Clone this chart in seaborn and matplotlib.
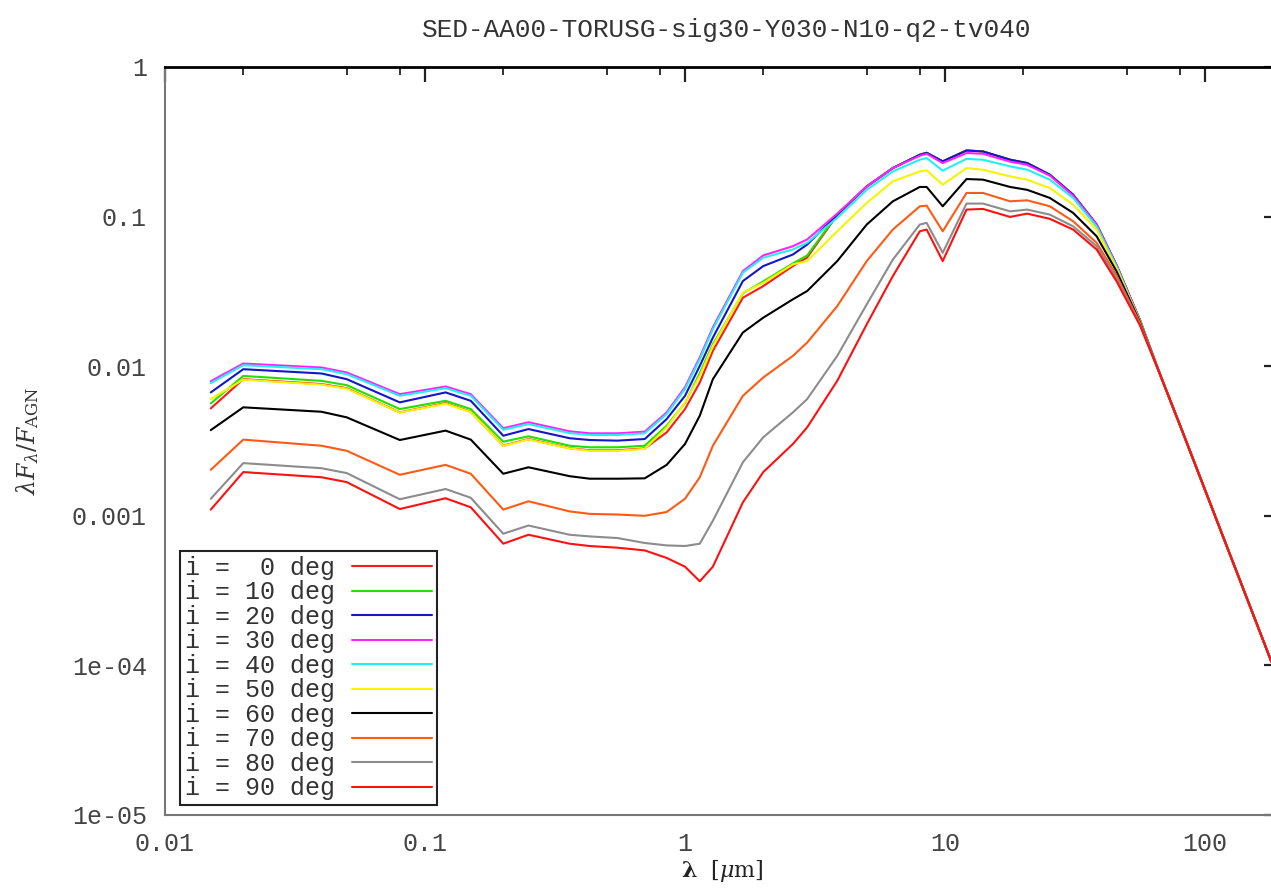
import numpy as np
import pandas as pd
import matplotlib
matplotlib.use("Agg")
import matplotlib.pyplot as plt
from matplotlib import ticker
import seaborn as sns

# --- data (wavelength in micron, lambda*F_lambda/F_AGN) ---
wavelength = [0.015, 0.02, 0.04, 0.05, 0.08, 0.12, 0.15, 0.2, 0.25, 0.36, 0.43, 0.55,
              0.7, 0.85, 1.0, 1.14, 1.28, 1.67, 2.0, 2.6, 2.95, 3.85, 5.0, 6.3, 8.0,
              8.5, 9.8, 12.1, 14.0, 17.8, 20.7, 25.3, 31.1, 38.3, 45.7, 56.2, 67.1,
              82.6, 180.0]

flux_i0 = [0.00522, 0.00819, 0.00759, 0.00713, 0.00491, 0.00567, 0.00496, 0.00294,
           0.00326, 0.00283, 0.00274, 0.00274, 0.00282, 0.00361, 0.00517, 0.00778,
           0.01265, 0.0287, 0.0343, 0.0467, 0.0533, 0.1023, 0.159, 0.211, 0.259,
           0.267, 0.234, 0.2767, 0.2725, 0.240, 0.228, 0.1905, 0.140, 0.0885,
           0.0472, 0.0203, 0.00885, 0.00352, 0.000106]
flux_i10 = [0.00564, 0.00861, 0.00798, 0.00747, 0.00517, 0.00587, 0.00517, 0.00313,
            0.00340, 0.00294, 0.00287, 0.00287, 0.00294, 0.00400, 0.00567, 0.00898,
            0.01403, 0.0307, 0.0369, 0.0486, 0.0550, 0.1031, 0.159, 0.211, 0.259,
            0.267, 0.234, 0.2767, 0.2725, 0.240, 0.228, 0.1905, 0.140, 0.0885,
            0.0472, 0.0203, 0.00885, 0.00352, 0.000106]
flux_i20 = [0.00668, 0.00955, 0.00894, 0.00819, 0.00573, 0.00668, 0.00587, 0.00343,
            0.00380, 0.00330, 0.00321, 0.00318, 0.00326, 0.00443, 0.00634, 0.01005,
            0.01553, 0.0371, 0.0467, 0.0558, 0.0650, 0.1031, 0.159, 0.211, 0.259,
            0.267, 0.234, 0.2767, 0.2725, 0.240, 0.228, 0.1905, 0.140, 0.0885,
            0.0472, 0.0203, 0.00885, 0.00352, 0.000106]
flux_i30 = [0.00794, 0.01042, 0.00980, 0.00908, 0.00650, 0.00732, 0.00650, 0.00385,
            0.00422, 0.00367, 0.00356, 0.00356, 0.00365, 0.00491, 0.00724, 0.01148,
            0.0182, 0.0432, 0.0550, 0.0634, 0.0703, 0.1047, 0.159, 0.211, 0.255,
            0.263, 0.228, 0.266, 0.263, 0.233, 0.222, 0.188, 0.138, 0.0885,
            0.0472, 0.0203, 0.00885, 0.00352, 0.000106]
flux_i40 = [0.00770, 0.01016, 0.00955, 0.00885, 0.00634, 0.00713, 0.00634, 0.00376,
            0.00410, 0.00357, 0.00347, 0.00347, 0.00356, 0.00479, 0.00703, 0.01114,
            0.01766, 0.0422, 0.0531, 0.0603, 0.0668, 0.0980, 0.151, 0.2004, 0.240,
            0.246, 0.203, 0.243, 0.240, 0.2165, 0.206, 0.1766, 0.1333, 0.0858,
            0.0464, 0.01995, 0.00885, 0.00352, 0.000106]
flux_i50 = [0.00603, 0.00813, 0.00753, 0.00708, 0.00490, 0.00562, 0.00494, 0.00293,
            0.00324, 0.00282, 0.00272, 0.00272, 0.00280, 0.00390, 0.00573, 0.00861,
            0.01366, 0.0310, 0.0361, 0.0479, 0.0504, 0.0798, 0.1234, 0.1720, 0.2004,
            0.2037, 0.1634, 0.211, 0.2056, 0.1857, 0.1766, 0.1552, 0.1202, 0.0819,
            0.0450, 0.01995, 0.00885, 0.00352, 0.000106]
flux_i60 = [0.00374, 0.00531, 0.00496, 0.00455, 0.00321, 0.00371, 0.00323, 0.00191,
            0.00211, 0.00184, 0.00177, 0.00177, 0.00178, 0.00219, 0.00302, 0.00467,
            0.00819, 0.0168, 0.0211, 0.0280, 0.0318, 0.0504, 0.0885, 0.1265, 0.1578,
            0.1578, 0.1172, 0.1783, 0.1766, 0.1578, 0.151, 0.1333, 0.1059, 0.0739,
            0.0430, 0.0197, 0.00885, 0.00352, 0.000106]
flux_i70 = [0.00203, 0.00323, 0.00294, 0.00272, 0.00188, 0.00219, 0.00191, 0.00110,
            0.00125, 0.00107, 0.00103, 0.00102, 0.00100, 0.00106, 0.00130, 0.00181,
            0.00294, 0.00634, 0.00841, 0.01172, 0.01439, 0.0252, 0.0504, 0.0819, 0.1172,
            0.1184, 0.0798, 0.1439, 0.1439, 0.1265, 0.1285, 0.1172, 0.0931, 0.0668,
            0.0404, 0.0194, 0.00885, 0.00352, 0.000106]
flux_i80 = [0.00130, 0.00225, 0.00208, 0.00193, 0.00129, 0.00151, 0.00132, 0.000759,
            0.000861, 0.000747, 0.000728, 0.000710, 0.000658, 0.000634, 0.000628, 0.000651,
            0.000927, 0.00228, 0.00335, 0.00491, 0.00603, 0.01172, 0.0259, 0.0516, 0.0885,
            0.0908, 0.0573, 0.1222, 0.1222, 0.1084, 0.1114, 0.1031, 0.0861, 0.0634,
            0.0386, 0.01905, 0.00885, 0.00352, 0.000106]
flux_i90 = [0.00110, 0.00196, 0.00181, 0.00168, 0.00111, 0.00131, 0.00114, 0.000651,
            0.000747, 0.000651, 0.000628, 0.000612, 0.000587, 0.000523, 0.000457, 0.000365,
            0.000457, 0.00123, 0.00196, 0.00302, 0.00390, 0.00798, 0.01905, 0.0400, 0.0798,
            0.0819, 0.0504, 0.1114, 0.1125, 0.0995, 0.1047, 0.0966, 0.0819, 0.0603,
            0.0369, 0.01876, 0.00885, 0.00352, 0.000106]

angles = [0, 10, 20, 30, 40, 50, 60, 70, 80, 90]
series = [flux_i0, flux_i10, flux_i20, flux_i30, flux_i40,
          flux_i50, flux_i60, flux_i70, flux_i80, flux_i90]
colors = ['#ff1a1a', '#22e000', '#1414c8', '#ff22ff', '#22f0f0',
          '#f5f500', '#000000', '#ff5a14', '#8c8c8c', '#ff1010']

labels = [f"i = {a:2d} deg" for a in angles]

frames = []
for lab, vals in zip(labels, series):
    frames.append(pd.DataFrame({'wavelength': wavelength, 'flux': vals, 'angle': lab}))
df = pd.concat(frames, ignore_index=True)

# --- style ---
sns.set_theme(style="white")
plt.rcParams['font.family'] = ['Liberation Mono', 'DejaVu Sans Mono']
plt.rcParams['text.color'] = '#333333'
plt.rcParams['xtick.color'] = '#222222'
plt.rcParams['ytick.color'] = '#222222'
plt.rcParams['xtick.labelcolor'] = '#444444'
plt.rcParams['ytick.labelcolor'] = '#444444'
plt.rcParams['mathtext.fontset'] = 'dejavuserif'

# axes: left edge at 165 px, right spine a few px beyond the figure edge (cut off as in the reference)
ax_left, ax_right_px = 165, 1279
fig = plt.figure(figsize=(12.71, 8.90), dpi=100)
ax = fig.add_axes([ax_left / 1271, 75 / 890, (ax_right_px - ax_left) / 1271, 748 / 890])

sns.lineplot(data=df, x='wavelength', y='flux', hue='angle', hue_order=labels,
             palette=dict(zip(labels, colors)), sort=False, estimator=None,
             linewidth=1.5, legend=False, ax=ax)

ax.set_xscale('log')
ax.set_yscale('log')
ax.set_xlim(0.01, 10 ** (2 + (ax_right_px - ax_left - 1040) / 260))
ax.set_ylim(1e-5, 1)

ax.set_xticks([0.01, 0.1, 1, 10, 100])
ax.set_xticklabels(['0.01', '0.1', '1', '10', '100'])
ax.set_yticks([1e-5, 1e-4, 1e-3, 1e-2, 0.1, 1])
ax.set_yticklabels(['1e-05', '1e-04', '0.001', '0.01', '0.1', '1'])
ax.xaxis.set_minor_locator(ticker.LogLocator(base=10, subs=[2, 5, 8]))
ax.yaxis.set_minor_locator(ticker.LogLocator(base=10, subs=[2, 5, 8]))
ax.xaxis.set_minor_formatter(ticker.NullFormatter())
ax.yaxis.set_minor_formatter(ticker.NullFormatter())

ax.tick_params(which='both', direction='in', top=True, right=True, labelsize=18)
ax.tick_params(which='major', length=11, width=1.6)
ax.tick_params(which='minor', length=6, width=1.3)
ax.tick_params(axis='y', pad=13)
ax.tick_params(axis='x', pad=12)

for side in ['left', 'bottom']:
    ax.spines[side].set_color('#777777')
    ax.spines[side].set_linewidth(1.5)
ax.spines['top'].set_color('black')
ax.spines['top'].set_linewidth(2.0)
ax.spines['right'].set_color('black')

ax.set_xlabel(r'$\mathbf{\lambda}$  [$\mu$m]', fontsize=16, family='DejaVu Serif',
              labelpad=2, color='#222222')
ax.set_ylabel(r'$\lambda F_\lambda / F_{\rm AGN}$', fontsize=17, color='#333333',
              labelpad=22)

fig.text(727 / 1271, 1 - 30 / 890, 'SED-AA00-TORUSG-sig30-Y030-N10-q2-tv040',
         ha='center', va='center', fontsize=18.8, color='#333333')

handles = ax.get_lines()[:len(labels)]
leg = ax.legend(handles, labels, loc='lower left', bbox_to_anchor=(0.0135, 0.0134),
                markerfirst=False, fontsize=18, handlelength=3.2, handletextpad=0.7,
                labelspacing=0.02, borderpad=0.18, borderaxespad=0.0,
                frameon=True, fancybox=False, framealpha=1.0)
leg.get_frame().set_edgecolor('#222222')
leg.get_frame().set_linewidth(1.5)
for t in leg.get_texts():
    t.set_color('#333333')

fig.savefig('out.png', dpi=100)
